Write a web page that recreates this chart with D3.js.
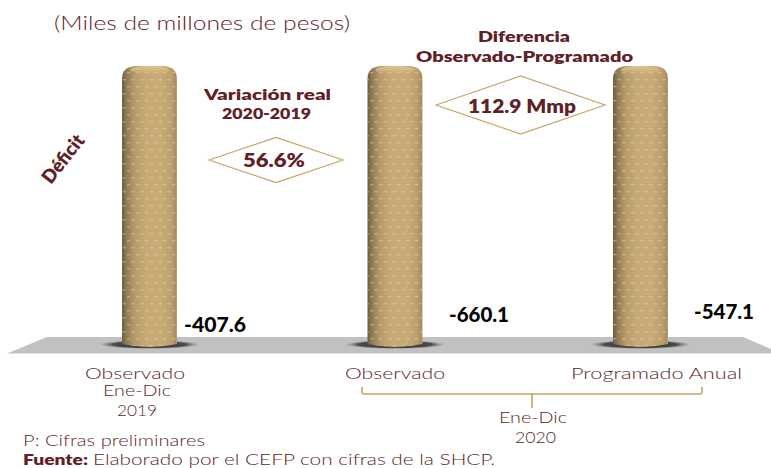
<!DOCTYPE html>
<html><head><meta charset="utf-8">
<script src="https://cdn.jsdelivr.net/npm/d3@7/dist/d3.min.js"></script>
<style>html,body{margin:0;padding:0;background:#fff}svg{display:block}text{font-family:Lato,"Open Sans",sans-serif}</style>
</head><body><svg id="c" width="771" height="468"></svg>
<script>
const categories = ["Observado 2019", "Observado 2020", "Programado Anual 2020"];
const values = [-407.6, -660.1, -547.1];
const drawnHeights = [100, 100, 100]; // the reference draws three equal columns
const valueLabels = ["-407.6", "-660.1", "-547.1"];

const W = 771, H = 468;
const dark = "#5f2128", label = "#5a1f26", gold = "#c9a468";
const svg = d3.select("#c");
const defs = svg.append("defs");

const x = d3.scaleBand().domain(categories).range([26.75, 763.25]).paddingInner(0.776).paddingOuter(0.388);
const y = d3.scaleLinear().domain([0, 100]).range([347, 66]);

// fills
const grad = defs.append("linearGradient").attr("id", "cyl");
[[0, "#6f5d40"], [0.08, "#8f7a54"], [0.22, "#b59a6a"], [0.42, "#c6a975"], [0.7, "#c8ab77"], [0.9, "#bb9f6e"], [0.98, "#a68d62"], [1, "#b5a585"]]
  .forEach(([o, c]) => grad.append("stop").attr("offset", o).attr("stop-color", c));
const capGrad = defs.append("linearGradient").attr("id", "cap").attr("x1", 0).attr("x2", 0).attr("y1", 0).attr("y2", 1);
[[0, "#e0c48e", 1], [0.5, "#d6b985", 0.8], [1, "#d0b380", 0]].forEach(([o, c, a]) => capGrad.append("stop").attr("offset", o).attr("stop-color", c).attr("stop-opacity", a));
const pat = defs.append("pattern").attr("id", "dots").attr("patternUnits", "userSpaceOnUse").attr("width", 9).attr("height", 14);
pat.append("rect").attr("x", 1).attr("y", 2).attr("width", 3.4).attr("height", 1.4).attr("fill", "#efdcae").attr("opacity", 0.42);
pat.append("rect").attr("x", 5.5).attr("y", 9).attr("width", 3.4).attr("height", 1.4).attr("fill", "#efdcae").attr("opacity", 0.42);
const shade = defs.append("radialGradient").attr("id", "shadow");
[[0, "#2e2e2e", 1], [0.72, "#3c3c3c", 0.9], [1, "#808080", 0]].forEach(([o, c, a]) => shade.append("stop").attr("offset", o).attr("stop-color", c).attr("stop-opacity", a));
const blur = defs.append("filter").attr("id", "soft"); blur.append("feGaussianBlur").attr("stdDeviation", 0.5);

// floor
svg.append("path")
  .attr("d", d3.line()([[7, 353.5], [47, 337], [743, 337], [771, 349], [771, 353.5]]) + "Z")
  .attr("fill", "#c1c1c1");

// base shadows
svg.selectAll("ellipse.sh").data(categories).join("ellipse").attr("class", "sh")
  .attr("cx", d => x(d) + x.bandwidth() / 2).attr("cy", 344.5)
  .attr("rx", x.bandwidth() / 2 + 23).attr("ry", 4.5).attr("fill", "url(#shadow)");

// columns
const barPath = (d, i) => {
  const l = x(d), r = l + x.bandwidth(), t = y(drawnHeights[i]), b = y(0), k = 13;
  return `M${l},${b - 3}L${l},${t + k}Q${l},${t + 1} ${l + k},${t}L${r - k},${t}Q${r},${t + 1} ${r},${t + k}L${r},${b - 3}Q${(l + r) / 2},${b + 3} ${l},${b - 3}Z`;
};
["url(#cyl)", "url(#dots)"].forEach(f =>
  svg.append("g").selectAll("path").data(categories).join("path").attr("d", barPath).attr("fill", f).attr("filter", "url(#soft)"));
svg.append("g").selectAll("ellipse").data(categories).join("ellipse")
  .attr("cx", d => x(d) + x.bandwidth() / 2).attr("cy", (d, i) => y(drawnHeights[i]) + 4)
  .attr("rx", x.bandwidth() / 2 - 8).attr("ry", 4).attr("fill", "url(#cap)");

// text helper: fit text between x0 and x1 on a baseline
function t(str, x0, x1, base, size, weight, fill) {
  return svg.append("text").text(str).attr("x", x0).attr("y", base)
    .attr("font-size", size).attr("font-weight", weight || 400).attr("fill", fill || label)
    .attr("textLength", x1 - x0).attr("lengthAdjust", "spacingAndGlyphs");
}

t("(Miles de millones de pesos)", 54, 350, 30, 19, 300, dark);
t("Variación real", 204, 331, 100, 15, 800, dark);
t("2020-2019", 222, 311, 119, 15, 800, dark);
t("Diferencia", 478, 570, 42, 15, 800, dark);
t("Observado-Programado", 416, 633, 62, 15, 800, dark);

const diamond = (cx, cy, rx, ry) => d3.line()([[cx - rx, cy], [cx, cy - ry], [cx + rx, cy], [cx, cy + ry]]) + "Z";
svg.append("path").attr("d", diamond(276, 160, 67, 22.5)).attr("fill", "#fff").attr("stroke", gold).attr("stroke-width", 1.2);
svg.append("path").attr("d", diamond(520.5, 105, 84.5, 29)).attr("fill", "#fff").attr("stroke", gold).attr("stroke-width", 1.2);
t("56.6%", 243, 305, 167, 19.5, 800, dark);
t("112.9 Mmp", 468, 576, 113, 19.5, 800, dark);

svg.append("text").text("Déficit").attr("transform", "translate(51,185) rotate(-52)")
  .attr("font-size", 19).attr("font-weight", 800).attr("fill", dark)
  .attr("textLength", 56).attr("lengthAdjust", "spacingAndGlyphs");

// value labels
const valueSpots = [[184, 246, 332], [449, 509, 322], [694, 754, 319]];
valueLabels.forEach((s, i) => t(s, valueSpots[i][0], valueSpots[i][1], valueSpots[i][2], 20, 900, "#050505"));

// category labels
t("Observado", 85, 185, 379, 15.5, 300);
t("Ene-Dic", 103, 171, 396, 15.5, 300);
t("2019", 117, 157, 416, 15.5, 300);
t("Observado", 345, 445, 379, 15.5, 300);
t("Programado Anual", 571, 742, 379, 15.5, 300);

// bracket
svg.append("path").attr("fill", "none").attr("stroke", gold).attr("stroke-width", 1.6)
  .attr("d", "M362,387V392Q362,394 364,394H700Q702,394 702,392V387M532,394V408");
t("Ene-Dic", 499, 567, 423, 15.5, 300);
t("2020", 515, 556, 443, 15.5, 300);

t("P: Cifras preliminares", 23, 205, 446, 15, 300);
t("Fuente:", 23, 88, 465, 15, 800, dark);
t("Elaborado por el CEFP con cifras de la SHCP.", 93, 495, 465, 15, 300);
</script></body></html>
